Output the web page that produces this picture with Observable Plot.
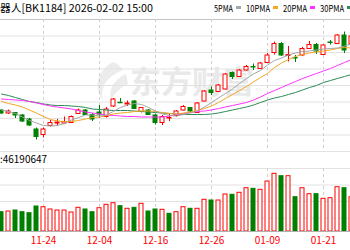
<!DOCTYPE html>
<html><head><meta charset="utf-8">
<script src="https://cdn.jsdelivr.net/npm/d3@7"></script>
<script src="https://cdn.jsdelivr.net/npm/@observablehq/plot@0.6"></script>
<style>
body{margin:0;background:#fff;}
#root{position:relative;width:350px;height:250px;overflow:hidden;font-family:"Noto Sans CJK SC","Noto Sans",sans-serif;color:#000;}
#wm{position:absolute;left:130px;top:62px;font-size:31px;font-weight:bold;color:#e9e9e9;line-height:36px;white-space:nowrap;}
#logo{position:absolute;left:0;top:0;}
#pricebox{position:absolute;left:0;top:0;}
#volbox{position:absolute;left:0;top:151px;}
#hdr{position:absolute;left:0;top:0;pointer-events:none;}
#hdr text{font-family:"Noto Sans CJK SC","Noto Sans",sans-serif;fill:#000;}
</style></head><body>
<div id="root">
<svg id="logo" width="350" height="250" xmlns="http://www.w3.org/2000/svg">
  <path d="M113 62 C97 70 93 88 103 100 C100 87 107 76 123 70 C120 66 117 63 113 62 Z" fill="#ececec"/>
  <path d="M126 74 C113 80 108 91 111 99 C117 91 123 86 128 84 Z" fill="#ececec"/>
</svg>
<div id="wm">东方财富</div>
<div id="pricebox"></div>
<div id="volbox"></div>
<svg id="hdr" width="350" height="250" xmlns="http://www.w3.org/2000/svg"></svg>
</div>
<script>
const dates = ["11-14","11-17","11-18","11-19","11-20","11-21","11-24","11-25","11-26","11-27","11-28","12-01","12-02","12-03","12-04","12-05","12-08","12-09","12-10","12-11","12-12","12-15","12-16","12-17","12-18","12-19","12-22","12-23","12-24","12-25","12-26","12-29","12-30","12-31","01-05","01-06","01-07","01-08","01-09","01-12","01-13","01-14","01-15","01-16","01-19","01-20","01-21","01-22","01-23","01-26","01-27"];
const open = [1082,1076,1077,1072,1064,1044,1033,1051,1056,1056,1057,1075,1082,1073,1078,1069,1090,1097.5,1094,1100,1079,1082,1072,1057,1066,1071,1082,1087,1077,1100,1122,1119,1124,1157,1149,1162,1169,1165,1177,1197,1215,1191,1187,1192,1205,1213,1193,1218,1215,1232,1214];
const close = [1076,1080,1072,1060,1052,1029,1044,1057,1058,1059,1069,1082,1073,1064,1074,1084,1104,1096.5,1096,1085,1087,1073,1057,1069,1067,1080,1089,1080,1096,1120,1117,1132,1154,1149,1162,1169,1168,1176,1192,1215,1192,1193,1186,1205,1213,1200,1212,1217,1232,1202,1230];
const high = [1084,1083,1078,1074,1066,1047,1047,1062,1064,1069,1071,1085,1084,1076,1092,1088,1106,1106,1101,1102,1088,1084,1075,1072,1075,1082,1092,1088,1098,1122,1129,1134,1156,1159,1164,1172,1175,1178,1196,1219,1218,1210,1192,1208,1220,1216,1214,1222,1234,1239,1236];
const low = [1074,1074,1066,1058,1050,1023,1027,1049,1051,1055,1056,1074,1072,1060,1066,1067,1088,1096,1090,1084,1077,1072,1053,1052,1060,1069,1081,1078,1077,1099,1112,1118,1123,1144,1148,1161,1162,1165,1176,1193,1190,1179,1178,1191,1205,1194,1192,1213,1214,1196,1210];
const volume = [19.3,20,21,19.3,18.3,25,24.3,22,21,21,19,23.7,22,19.3,23.3,26.7,28.3,25.3,22.7,23.7,27.7,20,22,21.7,17.7,19.3,24.3,22.7,22.7,31.7,31,31,37,36.7,38.7,43.3,42.7,41.7,50,57.7,55.3,55.3,34.3,43.3,37.3,37.3,32.7,33.3,44.3,43.3,34.3];
const volUp = [0,1,0,0,0,0,1,1,1,1,1,1,0,0,1,1,1,0,1,0,1,0,0,1,0,1,1,0,1,1,0,1,1,0,1,1,0,1,1,1,0,1,0,1,1,0,1,1,1,0,1];
const ma5 = [1083,1080,1076,1069,1062,1057,1052,1051,1052,1056,1063,1068,1073,1073,1071,1073,1080,1088,1093,1096,1094,1088,1081,1075,1072,1071,1074,1077,1081,1089,1098,1107,1116,1125,1136,1146,1155,1162,1173,1182,1187,1193,1197,1200,1201,1203,1205,1206,1207,1211,1215];
const ma10 = [1100,1096,1093,1089,1083,1077,1070,1064,1061,1060,1060,1062,1065,1068,1069,1072,1075,1077,1078,1080,1081,1081,1080,1078,1076,1075,1077,1079,1082,1086,1091,1098,1106,1114,1122,1130,1139,1148,1156,1168,1177,1184,1190,1194,1197,1199,1201,1203,1206,1208,1207];
const ma20 = [1105,1104,1103,1102,1100,1097,1094,1091,1089,1087,1085,1082,1079,1077,1075,1073,1072,1071,1070,1070,1069,1069,1069,1069,1071,1074,1076,1078,1080,1081,1083,1086,1089,1092,1095,1098,1103,1109,1116,1122,1128,1134,1140,1146,1151,1156,1161,1166,1172,1178,1184];
const ma30 = [1115,1112,1108,1104,1100,1098,1095,1093,1092,1092,1091,1090,1088,1085,1084,1083,1082,1082,1082,1081,1080,1079,1078,1077,1076,1075,1074,1074,1074,1074,1075,1077,1080,1083,1086,1089,1093,1098,1103,1107,1110,1114,1118,1123,1128,1132,1138,1142,1146,1150,1154];
const maLabels = ["5PMA","10PMA","20PMA","30PMA"];
const maColors = ["#a6a6a6","#f5a623","#ff33ff","#2e8b57"];
const tickDates = ["11-24","12-04","12-16","12-26","01-09","01-21"];
const priceGrid = [1000,1033,1066,1099,1132,1165,1198,1231];
const priceTop = 1264;
const volGrid = [13.5,30,46.5,63];
const titleText = "器人[BK1184] 2026-02-02 15:00";
const volText = ":46190647";

const RED = "#ff0000", GREEN = "#008000";
const candles = dates.map((d, i) => ({i, d, o: open[i], c: close[i], h: high[i], l: low[i], up: close[i] >= open[i]}));
const vols = dates.map((d, i) => ({i, v: volume[i], up: volUp[i] === 1}));
const tickIdx = tickDates.map(t => dates.indexOf(t));
const xDomain = [-1/7, 50 - 1/7];
const hw = 2/7;
const maSeries = [ma30, ma20, ma10, ma5];
const maSeriesColors = [maColors[3], maColors[2], maColors[1], maColors[0]];

const price = Plot.plot({
  width: 350, height: 152, marginTop: 19, marginBottom: 1, marginLeft: 0, marginRight: 0,
  style: {background: "transparent", overflow: "hidden"},
  x: {domain: xDomain, axis: null},
  y: {domain: [1000, 1264], axis: null},
  color: {type: "identity"},
  marks: [
    Plot.ruleY(priceGrid, {stroke: "#e2e2e2"}),
    Plot.ruleY([priceTop], {stroke: "#c4c4c4"}),
    Plot.ruleX(tickIdx, {stroke: "#cfcfcf", strokeDasharray: "3,3"}),
    Plot.ruleX(candles, {x: "i", y1: "l", y2: "h", stroke: d => d.up ? RED : GREEN, clip: true}),
    Plot.rect(candles, {x1: d => d.i - hw, x2: d => d.i + hw, y1: "o", y2: "c", fill: d => d.up ? "#ffffff" : GREEN, stroke: d => d.up ? RED : GREEN, clip: true}),
    ...maSeries.map((s, k) => Plot.lineY(s, {x: (d, i) => i, y: d => d, stroke: maSeriesColors[k], strokeWidth: 1, clip: true}))
  ]
});
document.getElementById("pricebox").appendChild(price);

const vol = Plot.plot({
  width: 350, height: 99, marginTop: 17, marginBottom: 19, marginLeft: 0, marginRight: 0,
  style: {background: "transparent", overflow: "hidden", color: "#ff0000", fontSize: "10px", fontFamily: "'Noto Sans CJK SC','Noto Sans',sans-serif"},
  x: {domain: xDomain, ticks: tickIdx, tickFormat: i => dates[i], tickSize: 0, tickPadding: 5, label: null},
  y: {domain: [0, 63], axis: null},
  color: {type: "identity"},
  marks: [
    Plot.ruleY(volGrid, {stroke: "#e2e2e2"}),
    Plot.ruleX(tickIdx, {stroke: "#cfcfcf", strokeDasharray: "3,3"}),
    Plot.rect(vols, {x1: d => d.i - hw, x2: d => d.i + hw, y1: 0, y2: "v", fill: d => d.up ? "#ffffff" : GREEN, stroke: d => d.up ? RED : GREEN, clip: true}),
    Plot.ruleY([0], {stroke: "#b0b0b0"})
  ]
});
document.getElementById("volbox").appendChild(vol);

// header texts and legend (overlay)
const NS = "http://www.w3.org/2000/svg";
const hdr = document.getElementById("hdr");
function addText(str, x, y, size, len) {
  const t = document.createElementNS(NS, "text");
  t.setAttribute("x", x); t.setAttribute("y", y);
  t.setAttribute("font-size", size);
  if (len) { t.setAttribute("textLength", len); t.setAttribute("lengthAdjust", "spacingAndGlyphs"); }
  t.textContent = str; hdr.appendChild(t);
}
function addSwatch(x, color) {
  const r = document.createElementNS(NS, "rect");
  r.setAttribute("x", x); r.setAttribute("y", 6); r.setAttribute("width", 5); r.setAttribute("height", 3);
  r.setAttribute("fill", color); hdr.appendChild(r);
}
addText(titleText, 0, 11.5, 10.5, 153);
addText(volText, 0, 162.5, 10, 47);
let lx = 214;
maLabels.forEach((lab, k) => {
  const w = lab.length === 4 ? 19 : 24;
  addText(lab, lx, 11.5, 9.5, w);
  lx += w + 3;
  addSwatch(lx, maColors[k]);
  lx += 5 + 5;
});
</script>
</body></html>
